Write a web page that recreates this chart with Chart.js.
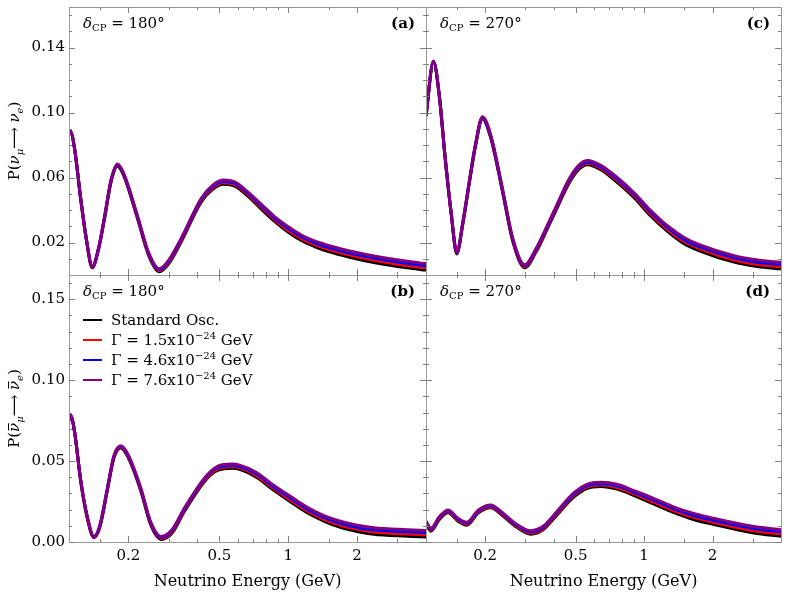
<!DOCTYPE html>
<html lang="en">
<head>
<meta charset="UTF-8" />
<title>Appearance probability with neutrino decay</title>
<script src="https://cdn.jsdelivr.net/npm/chart.js"></script>
<style>
  body { margin: 0; background: #fff; }
  #wrap { position: relative; width: 789px; height: 613px; overflow: hidden; }
  #wrap canvas { position: absolute; }
</style>
</head>
<body>
<div id="wrap">
  <canvas id="panelA" width="430" height="280" style="left:0;top:0"></canvas>
  <canvas id="panelC" width="367" height="280" style="left:422px;top:0"></canvas>
  <canvas id="panelB" width="430" height="342" style="left:0;top:271px"></canvas>
  <canvas id="panelD" width="367" height="342" style="left:422px;top:271px"></canvas>
</div>

<script>
  // ---- data ----
  const seriesLabels = ['Standard Osc.', '1.5', '4.6', '7.6'];   // Gamma in units of 1e-24 GeV
  const seriesColors = ['#000000', '#ff0000', '#0000ff', '#800080'];

  const xLabelTicks = [0.2, 0.5, 1, 2];
  const xMinorTicks = [0.15, 0.3, 0.4, 0.6, 0.7, 0.8, 0.9, 1.5, 3];
  const yLabelsTop = [0.02, 0.06, 0.10, 0.14];
  const yLabelsBottom = [0, 0.05, 0.10, 0.15];
  const yMinorTicks = [0.01, 0.02, 0.03, 0.04, 0.05, 0.06, 0.07, 0.08, 0.09, 0.10, 0.11, 0.12, 0.13, 0.14, 0.15, 0.16];

  // (a) nu_mu -> nu_e, dCP = 180
  const energyA = [0.110, 0.1115, 0.116, 0.124, 0.131, 0.139, 0.148, 0.1575, 0.168, 0.179, 0.190, 0.219, 0.245, 0.273, 0.300, 0.340, 0.416, 0.470, 0.52, 0.583, 0.667, 0.764, 0.874, 1.0, 1.145, 1.31, 1.5, 1.836, 2.364, 3.311, 4.0];
  const stdA = [0.0869, 0.0880, 0.0787, 0.0455, 0.0215, 0.0044, 0.0155, 0.0351, 0.0573, 0.0670, 0.0618, 0.0349, 0.0121, 0.0020, 0.0069, 0.0203, 0.0449, 0.0530, 0.0559, 0.0547, 0.0484, 0.0404, 0.0328, 0.0263, 0.0211, 0.0174, 0.0144, 0.0111, 0.0077, 0.0044, 0.0030];
  const g15A = [0.0871, 0.0882, 0.0789, 0.0458, 0.0218, 0.0047, 0.0158, 0.0356, 0.0578, 0.0675, 0.0623, 0.0355, 0.0127, 0.0026, 0.0076, 0.0210, 0.0456, 0.0539, 0.0568, 0.0556, 0.0493, 0.0414, 0.0338, 0.0274, 0.0222, 0.0185, 0.0157, 0.0124, 0.0090, 0.0057, 0.0043];
  const g46A = [0.0873, 0.0884, 0.0791, 0.0462, 0.0222, 0.0051, 0.0162, 0.0360, 0.0582, 0.0679, 0.0627, 0.0361, 0.0133, 0.0032, 0.0084, 0.0218, 0.0464, 0.0547, 0.0576, 0.0564, 0.0501, 0.0424, 0.0348, 0.0286, 0.0234, 0.0197, 0.0169, 0.0136, 0.0104, 0.0071, 0.0057];
  const g76A = [0.0875, 0.0886, 0.0793, 0.0465, 0.0225, 0.0054, 0.0165, 0.0365, 0.0587, 0.0684, 0.0632, 0.0367, 0.0139, 0.0038, 0.0091, 0.0225, 0.0471, 0.0556, 0.0585, 0.0573, 0.0510, 0.0434, 0.0358, 0.0297, 0.0245, 0.0208, 0.0182, 0.0149, 0.0117, 0.0084, 0.0070];

  // (c) nu_mu -> nu_e, dCP = 270
  const energyC = [0.110, 0.1186, 0.126, 0.1334, 0.142, 0.1502, 0.160, 0.1702, 0.181, 0.1948, 0.212, 0.2386, 0.265, 0.2989, 0.335, 0.3759, 0.42, 0.4604, 0.51, 0.5637, 0.645, 0.764, 0.904, 1.07, 1.267, 1.5, 1.775, 2.487, 3.15, 4.0];
  const stdC = [0.0977, 0.1312, 0.1093, 0.0723, 0.0373, 0.0129, 0.0320, 0.0557, 0.0783, 0.0961, 0.0842, 0.0513, 0.0205, 0.0045, 0.0141, 0.0285, 0.0429, 0.0547, 0.0642, 0.0679, 0.0649, 0.0569, 0.0476, 0.0363, 0.0269, 0.0193, 0.0146, 0.0079, 0.0052, 0.0038];
  const g15C = [0.0979, 0.1314, 0.1096, 0.0726, 0.0376, 0.0134, 0.0325, 0.0562, 0.0788, 0.0966, 0.0848, 0.0519, 0.0211, 0.0051, 0.0148, 0.0292, 0.0436, 0.0556, 0.0651, 0.0688, 0.0658, 0.0579, 0.0486, 0.0374, 0.0280, 0.0206, 0.0159, 0.0092, 0.0065, 0.0051];
  const g46C = [0.0981, 0.1316, 0.1100, 0.0730, 0.0380, 0.0138, 0.0329, 0.0566, 0.0792, 0.0970, 0.0854, 0.0525, 0.0217, 0.0057, 0.0156, 0.0300, 0.0444, 0.0564, 0.0659, 0.0696, 0.0666, 0.0589, 0.0496, 0.0386, 0.0292, 0.0218, 0.0171, 0.0106, 0.0079, 0.0065];
  const g76C = [0.0983, 0.1318, 0.1103, 0.0733, 0.0383, 0.0143, 0.0334, 0.0571, 0.0797, 0.0975, 0.0860, 0.0531, 0.0223, 0.0063, 0.0163, 0.0307, 0.0451, 0.0573, 0.0668, 0.0705, 0.0675, 0.0599, 0.0506, 0.0397, 0.0303, 0.0231, 0.0184, 0.0119, 0.0092, 0.0078];

  // (b) anti nu_mu -> anti nu_e, dCP = 180
  const energyB = [0.110, 0.1117, 0.116, 0.1236, 0.131, 0.1414, 0.150, 0.1617, 0.173, 0.1854, 0.200, 0.2268, 0.250, 0.2775, 0.310, 0.3515, 0.4304, 0.490, 0.57, 0.6135, 0.726, 0.859, 1.017, 1.205, 1.43, 1.688, 2.0, 2.364, 3.311, 4.0];
  const stdB = [0.0747, 0.0777, 0.0690, 0.0380, 0.0174, 0.0026, 0.0090, 0.0316, 0.0521, 0.0581, 0.0519, 0.0314, 0.0108, 0.0016, 0.0054, 0.0188, 0.0374, 0.0442, 0.0456, 0.0449, 0.0400, 0.0322, 0.0250, 0.0182, 0.0129, 0.0090, 0.0065, 0.0048, 0.0036, 0.0031];
  const g15B = [0.0749, 0.0779, 0.0692, 0.0383, 0.0177, 0.0029, 0.0094, 0.0321, 0.0526, 0.0586, 0.0525, 0.0320, 0.0114, 0.0022, 0.0061, 0.0195, 0.0381, 0.0451, 0.0465, 0.0458, 0.0410, 0.0332, 0.0261, 0.0193, 0.0140, 0.0103, 0.0078, 0.0061, 0.0049, 0.0044];
  const g46B = [0.0751, 0.0781, 0.0694, 0.0387, 0.0181, 0.0033, 0.0098, 0.0325, 0.0530, 0.0590, 0.0531, 0.0326, 0.0120, 0.0028, 0.0069, 0.0203, 0.0389, 0.0459, 0.0473, 0.0466, 0.0420, 0.0342, 0.0273, 0.0205, 0.0152, 0.0115, 0.0090, 0.0075, 0.0063, 0.0058];
  const g76B = [0.0753, 0.0783, 0.0696, 0.0390, 0.0184, 0.0036, 0.0103, 0.0330, 0.0535, 0.0595, 0.0537, 0.0332, 0.0126, 0.0034, 0.0076, 0.0210, 0.0396, 0.0468, 0.0482, 0.0475, 0.0430, 0.0352, 0.0284, 0.0216, 0.0163, 0.0128, 0.0103, 0.0088, 0.0076, 0.0071];

  // (d) anti nu_mu -> anti nu_e, dCP = 270
  const energyD = [0.110, 0.1154, 0.126, 0.1375, 0.152, 0.1662, 0.187, 0.2118, 0.240, 0.275, 0.3176, 0.36, 0.4022, 0.4921, 0.56, 0.645, 0.76, 0.904, 1.1, 1.354, 1.65, 2.031, 3.04, 4.0];
  const stdD = [0.0111, 0.0067, 0.0139, 0.0180, 0.0129, 0.0104, 0.0180, 0.0211, 0.0160, 0.0092, 0.0048, 0.0075, 0.0147, 0.0279, 0.0330, 0.0343, 0.0327, 0.0287, 0.0236, 0.0182, 0.0139, 0.0108, 0.0056, 0.0036];
  const g15D = [0.0117, 0.0073, 0.0145, 0.0186, 0.0135, 0.0110, 0.0186, 0.0217, 0.0166, 0.0098, 0.0055, 0.0082, 0.0154, 0.0288, 0.0339, 0.0352, 0.0337, 0.0297, 0.0247, 0.0193, 0.0152, 0.0121, 0.0069, 0.0049];
  const g46D = [0.0123, 0.0079, 0.0151, 0.0192, 0.0141, 0.0116, 0.0192, 0.0223, 0.0172, 0.0104, 0.0063, 0.0090, 0.0162, 0.0296, 0.0347, 0.0360, 0.0347, 0.0307, 0.0259, 0.0205, 0.0164, 0.0133, 0.0083, 0.0063];
  const g76D = [0.0129, 0.0085, 0.0157, 0.0198, 0.0147, 0.0122, 0.0198, 0.0229, 0.0178, 0.0110, 0.0070, 0.0097, 0.0169, 0.0305, 0.0356, 0.0369, 0.0357, 0.0317, 0.0270, 0.0216, 0.0177, 0.0146, 0.0096, 0.0076];

  // ---- drawing helpers ----
  const SERIF = '"DejaVu Serif", serif';
  const F = {
    main: '15px ' + SERIF,
    ital: 'italic 15px ' + SERIF,
    sub: 'italic 10px ' + SERIF,
    small: '10px ' + SERIF,
    bold: 'bold 15px ' + SERIF,
    title: '16px ' + SERIF
  };
  const frameColor = '#999999';

  function drawParts(ctx, x, y, parts, align) {
    const widths = parts.map(p => { ctx.font = p.font; return ctx.measureText(p.t).width; });
    const total = widths.reduce((s, w) => s + w, 0);
    let cx = align === 'center' ? x - total / 2 : (align === 'right' ? x - total : x);
    parts.forEach((p, i) => {
      ctx.font = p.font;
      ctx.fillText(p.t, cx, y + (p.dy || 0));
      if (p.bar) ctx.fillRect(cx + 1.5, y - 11, widths[i] - 2, 1);
      cx += widths[i];
    });
  }

  const probTitle = (anti) => [
    { t: 'P(', font: F.main },
    { t: 'ν', font: F.ital, bar: anti },
    { t: 'μ', font: F.sub, dy: 4 },
    { t: '⟶ ', font: F.main },
    { t: 'ν', font: F.ital, bar: anti },
    { t: 'e', font: F.sub, dy: 4 },
    { t: ')', font: F.main }
  ];

  function makeChart(id, energy, series, cfg) {
    const deco = {
      id: 'deco',
      afterDatasetsDraw(chart) {
        const { ctx, chartArea: a } = chart;
        const xs = chart.scales.x, ys = chart.scales.y;
        ctx.save();
        // frame
        ctx.strokeStyle = frameColor;
        ctx.lineWidth = 1;
        ctx.strokeRect(a.left + 0.5, a.top + 0.5, a.right - a.left, a.bottom - a.top);
        // inward ticks on all four sides
        ctx.strokeStyle = '#808080';
        ctx.beginPath();
        const xt = (v, len) => {
          const px = Math.round(xs.getPixelForValue(v)) + 0.5;
          ctx.moveTo(px, a.bottom); ctx.lineTo(px, a.bottom - len);
          ctx.moveTo(px, a.top); ctx.lineTo(px, a.top + len);
        };
        const yt = (v, len) => {
          const py = Math.round(ys.getPixelForValue(v)) + 0.5;
          ctx.moveTo(a.left, py); ctx.lineTo(a.left + len, py);
          ctx.moveTo(a.right, py); ctx.lineTo(a.right - len, py);
        };
        xMinorTicks.forEach(v => xt(v, 3));
        xLabelTicks.forEach(v => xt(v, 6));
        yMinorTicks.forEach(v => yt(v, 3));
        cfg.yLabels.forEach(v => yt(v, 6));
        ctx.stroke();

        ctx.fillStyle = '#000';
        ctx.textBaseline = 'alphabetic';
        // delta_CP label and panel letter
        drawParts(ctx, a.left + 14, a.top + 21, [
          { t: 'δ', font: F.ital },
          { t: 'CP', font: F.small, dy: 3 },
          { t: ' = ' + cfg.dcp + '°', font: F.main }
        ], 'left');
        drawParts(ctx, a.right - 11, a.top + 21, [{ t: cfg.letter, font: F.bold }], 'right');

        // y-axis title
        if (cfg.yTitle) {
          ctx.save();
          ctx.translate(14, (a.top + a.bottom) / 2);
          ctx.rotate(-Math.PI / 2);
          drawParts(ctx, 0, 5, probTitle(cfg.anti), 'center');
          ctx.restore();
        }
        // x-axis title
        if (cfg.xTitle) {
          ctx.textBaseline = 'middle';
          drawParts(ctx, (a.left + a.right) / 2, 311, [{ t: 'Neutrino Energy (GeV)', font: F.title }], 'center');
          ctx.textBaseline = 'alphabetic';
        }
        // legend
        if (cfg.legend) {
          chart.data.datasets.forEach((ds, i) => {
            const y = a.top + 45 + i * 20;
            ctx.strokeStyle = ds.borderColor;
            ctx.lineWidth = 2;
            ctx.beginPath();
            ctx.moveTo(a.left + 14, y); ctx.lineTo(a.left + 33, y);
            ctx.stroke();
            const parts = i === 0
              ? [{ t: seriesLabels[0], font: F.main }]
              : [{ t: 'Γ = ' + seriesLabels[i] + 'x10', font: F.main },
                 { t: '−24', font: F.small, dy: -6 },
                 { t: ' GeV', font: F.main }];
            drawParts(ctx, a.left + 42, y + 5, parts, 'left');
          });
        }
        ctx.restore();
      }
    };

    return new Chart(document.getElementById(id), {
      type: 'line',
      data: {
        datasets: series.map((vals, i) => ({
          label: seriesLabels[i],
          data: energy.map((e, j) => ({ x: e, y: vals[j] })),
          borderColor: seriesColors[i],
          borderWidth: 3,
          pointRadius: 0,
          cubicInterpolationMode: 'monotone',
          clip: 0,
          order: series.length - i
        }))
      },
      options: {
        responsive: false,
        animation: false,
        devicePixelRatio: 1,
        events: [],
        layout: { padding: cfg.padding },
        plugins: { legend: { display: false }, tooltip: { enabled: false } },
        scales: {
          x: {
            type: 'logarithmic', min: 0.11, max: 4,
            display: cfg.showX,
            grid: { display: false, drawTicks: false },
            border: { display: false },
            afterBuildTicks: s => { s.ticks = xLabelTicks.map(v => ({ value: v })); },
            afterFit: s => {
              if (cfg.showX) s.height = 71;
              s.paddingLeft = 0; s.paddingRight = 0;
            },
            ticks: {
              padding: 5, autoSkip: false, maxRotation: 0, color: '#000',
              font: { family: SERIF, size: 15 },
              callback: v => String(v)
            }
          },
          y: {
            type: 'linear', min: 0, max: 0.165,
            display: cfg.showY,
            grid: { display: false, drawTicks: false },
            border: { display: false },
            afterBuildTicks: s => { s.ticks = cfg.yLabels.map(v => ({ value: v })); },
            afterFit: s => {
              if (cfg.showY) s.width = 69;
              s.paddingTop = 0; s.paddingBottom = 0;
            },
            ticks: {
              padding: 4, color: '#000',
              font: { family: SERIF, size: 15 },
              callback: v => Number(v).toFixed(2)
            }
          }
        }
      },
      plugins: [deco]
    });
  }

  makeChart('panelA', energyA, [stdA, g15A, g46A, g76A], {
    padding: { left: 0, top: 7, right: 4, bottom: 5 },
    showX: false, showY: true, yLabels: yLabelsTop,
    dcp: 180, letter: '(a)', yTitle: true, anti: false
  });
  makeChart('panelC', energyC, [stdC, g15C, g46C, g76C], {
    padding: { left: 4, top: 7, right: 8, bottom: 5 },
    showX: false, showY: false, yLabels: yLabelsTop,
    dcp: 270, letter: '(c)'
  });
  makeChart('panelB', energyB, [stdB, g15B, g46B, g76B], {
    padding: { left: 0, top: 4, right: 4, bottom: 0 },
    showX: true, showY: true, yLabels: yLabelsBottom,
    dcp: 180, letter: '(b)', yTitle: true, anti: true, xTitle: true, legend: true
  });
  makeChart('panelD', energyD, [stdD, g15D, g46D, g76D], {
    padding: { left: 4, top: 4, right: 8, bottom: 0 },
    showX: true, showY: false, yLabels: yLabelsBottom,
    dcp: 270, letter: '(d)', xTitle: true
  });
</script>
</body>
</html>
